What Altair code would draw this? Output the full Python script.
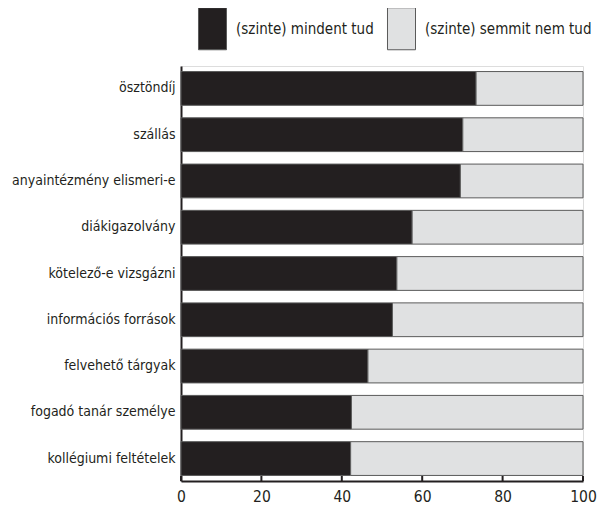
import altair as alt
import pandas as pd

categories = ["ösztöndíj", "szállás", "anyaintézmény elismeri-e", "diákigazolvány",
              "kötelező-e vizsgázni", "információs források", "felvehető tárgyak",
              "fogadó tanár személye", "kollégiumi feltételek"]
knows_all = [73.4, 70.1, 69.5, 57.5, 53.7, 52.6, 46.5, 42.4, 42.2]
knows_nothing = [26.6, 29.9, 30.5, 42.5, 46.3, 47.4, 53.5, 57.6, 57.8]
series = ["(szinte) mindent tud", "(szinte) semmit nem tud"]
colors = ["#231f20", "#e0e1e2"]
tick_values = [0, 20, 40, 60, 80, 100]

rows = []
for c, a, b in zip(categories, knows_all, knows_nothing):
    rows.append({"cat": c, "series": series[0], "value": a, "ord": 0})
    rows.append({"cat": c, "series": series[1], "value": b, "ord": 1})
df = pd.DataFrame(rows)
ticks_df = pd.DataFrame({"t": tick_values})

FONT = "Liberation Sans Narrow, DejaVu Sans Condensed, sans-serif"
W, H = 402, 415

xscale = alt.Scale(domain=[0, 100], nice=False)

bars = alt.Chart(df).mark_bar(stroke="#5a5a5a", strokeWidth=1).encode(
    y=alt.Y("cat:N", sort=categories, title=None,
            scale=alt.Scale(paddingInner=0.27, paddingOuter=0.12),
            axis=alt.Axis(domainColor="#231f20", domainWidth=2, ticks=False,
                          labelFont=FONT, labelFontSize=14, labelColor="#231f20",
                          labelPadding=6, labelLimit=300)),
    x=alt.X("value:Q", stack="zero", title=None, scale=xscale,
            axis=alt.Axis(values=tick_values, domainColor="#231f20", domainWidth=2,
                          ticks=False, grid=False, labelFont=FONT, labelFontSize=15.5,
                          labelColor="#231f20", labelPadding=8, labelFlush=False)),
    color=alt.Color("series:N", scale=alt.Scale(domain=series, range=colors),
                    legend=alt.Legend(title=None, orient="none", direction="horizontal",
                                      legendX=10, legendY=-59, padding=0,
                                      symbolType="M-0.667,-1H0.667V1H-0.667Z",
                                      symbolSize=1764, symbolStrokeWidth=1,
                                      symbolStrokeColor="#5a5a5a", symbolOpacity=1,
                                      labelFont=FONT, labelFontSize=15,
                                      labelColor="#231f20", labelOffset=2,
                                      labelLimit=300, columnPadding=6)),
    order=alt.Order("ord:Q"),
)

tick_marks = alt.Chart(ticks_df).mark_rule(color="#231f20", strokeWidth=2).encode(
    x=alt.X("t:Q", scale=xscale),
    y=alt.value(H - 5),
    y2=alt.value(H),
)

chart = alt.layer(bars, tick_marks).properties(
    width=W, height=H,
    autosize=alt.AutoSizeParams(type="none"),
    padding={"left": 173, "top": 58, "right": 14, "bottom": 26},
).configure_view(stroke=None).configure(background="white")

chart.save("out.html", embed_options={"renderer": "svg", "actions": False})
